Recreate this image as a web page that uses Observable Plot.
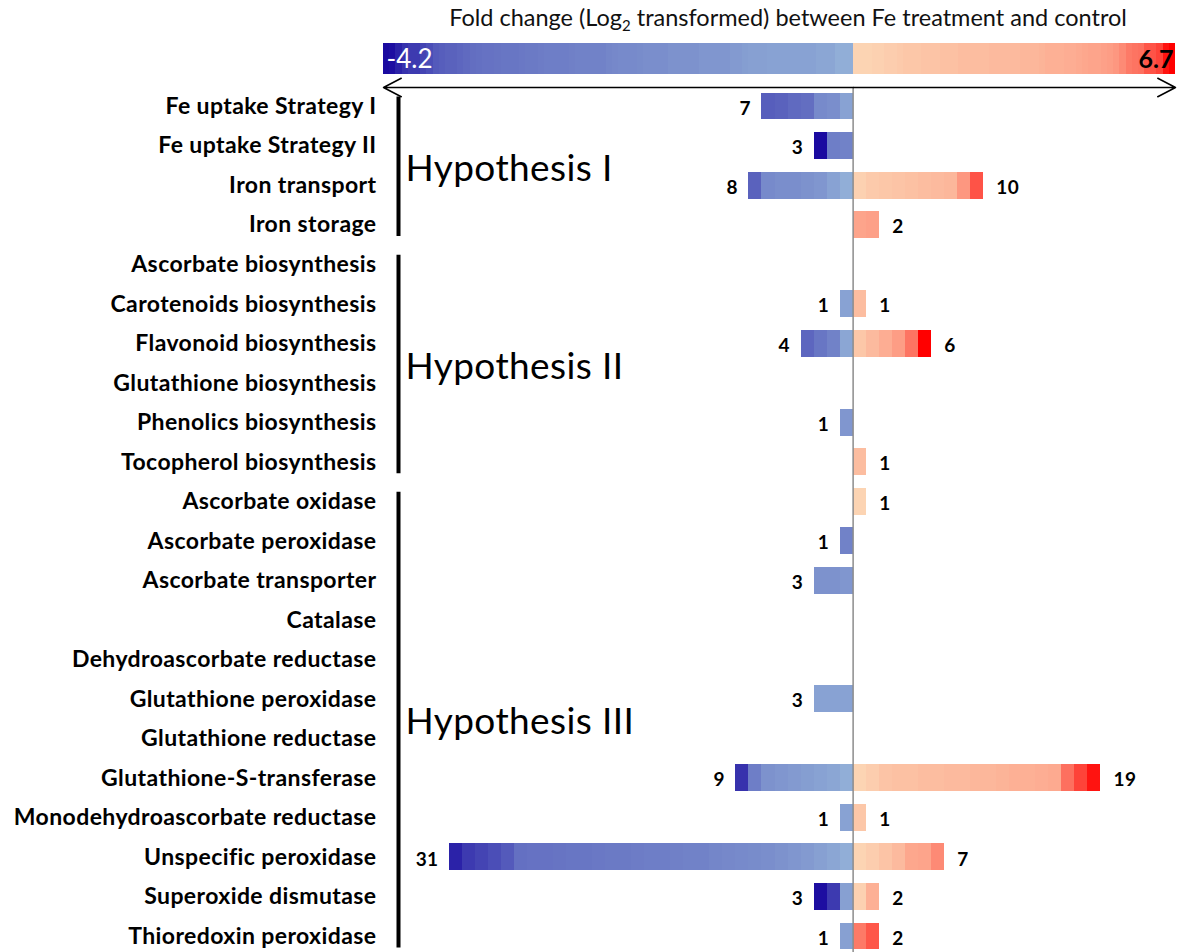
<!DOCTYPE html>
<html>
<head>
<meta charset="utf-8">
<script src="https://cdn.jsdelivr.net/npm/d3@7"></script>
<script src="https://cdn.jsdelivr.net/npm/@observablehq/plot@0.6"></script>
<style>
  body { margin: 0; background: #fff; }
  #wrap { position: relative; width: 1183px; height: 952px; overflow: hidden; font-family: Lato, sans-serif; }
  #title { position: absolute; left: 383px; width: 810px; top: 3px; text-align: center; font-size: 23.5px; color: #111; white-space: nowrap; }
  #title sub { font-size: 15px; vertical-align: -5px; line-height: 0; }
  .layer { position: absolute; left: 0; top: 0; }
  #main svg text { letter-spacing: 0.4px; }
</style>
</head>
<body>
<div id="wrap">
  <div id="title">Fold change (Log<sub>2</sub> transformed) between Fe treatment and control</div>
  <div id="main" class="layer"></div>
  <div id="bar" class="layer"></div>
</div>
<script>
// Functional categories (top to bottom)
const categories = [
  "Fe uptake Strategy I", "Fe uptake Strategy II", "Iron transport", "Iron storage",
  "Ascorbate biosynthesis", "Carotenoids biosynthesis", "Flavonoid biosynthesis",
  "Glutathione biosynthesis", "Phenolics biosynthesis", "Tocopherol biosynthesis",
  "Ascorbate oxidase", "Ascorbate peroxidase", "Ascorbate transporter", "Catalase",
  "Dehydroascorbate reductase", "Glutathione peroxidase", "Glutathione reductase",
  "Glutathione-S-transferase", "Monodehydroascorbate reductase", "Unspecific peroxidase",
  "Superoxide dismutase", "Thioredoxin peroxidase"
];

// Log2 fold change of each down-regulated gene, per category (same order as categories)
const downGenes = [
  [-2.1, -2.0, -1.8, -1.7, -1.0, -0.9, -0.4],
  [-4.2, -1.3, -1.2],
  [-2.0, -1.0, -0.9, -0.9, -0.8, -0.7, -0.4, -0.1],
  [],
  [],
  [-0.4],
  [-1.9, -1.5, -1.2, -0.3],
  [],
  [-0.7],
  [],
  [],
  [-1.2],
  [-0.8, -0.8, -0.7],
  [],
  [],
  [-0.4, -0.4, -0.4],
  [],
  [-3.2, -1.3, -0.8, -0.7, -0.6, -0.5, -0.4, -0.3, -0.1],
  [-0.4],
  [-3.6, -3.0, -2.75, -2.5, -2.2, -1.65, -1.6, -1.6, -1.55, -1.5, -1.5, -1.45, -1.4, -1.4, -1.35,
   -1.3, -1.3, -1.25, -1.2, -1.2, -1.1, -1.05, -1.0, -0.95, -0.9, -0.8, -0.7, -0.6, -0.45, -0.3, -0.1],
  [-4.1, -3.0, -0.45],
  [-0.45]
];

// Log2 fold change of each up-regulated gene, per category
const upGenes = [
  [],
  [],
  [0.2, 0.4, 0.5, 0.6, 0.7, 0.8, 0.9, 1.0, 2.0, 4.1],
  [1.6, 1.7],
  [],
  [0.8],
  [0.5, 0.9, 1.3, 1.8, 3.1, 6.7],
  [],
  [],
  [0.8],
  [0.1],
  [],
  [],
  [],
  [],
  [],
  [],
  [0.1, 0.3, 0.6, 0.7, 0.7, 0.8, 0.8, 0.9, 0.9, 1.0, 1.0, 1.1, 1.2, 1.2, 1.3, 1.4, 3.2, 4.6, 6.1],
  [0.5],
  [0.1, 0.3, 0.6, 0.9, 1.5, 1.6, 2.4],
  [0.2, 1.2],
  [2.9, 4.0]
];

// Hypothesis groups: label, first, middle and last category
const groupLabels = ["Hypothesis I", "Hypothesis II", "Hypothesis III"];
const groupFirst = ["Fe uptake Strategy I", "Ascorbate biosynthesis", "Ascorbate oxidase"];
const groupLast = ["Iron storage", "Tocopherol biosynthesis", "Thioredoxin peroxidase"];
const groupMiddle = ["Fe uptake Strategy II", "Flavonoid biosynthesis", "Glutathione peroxidase"];

// colour ramp stops
const colorStops = [-4.2, -1e-9, 1e-9, 6.7];
const colorRange = ["#1a0aa0", "#94b2d8", "#fcd7b6", "#ff0000"];

// ---- build tables ----
const genes = [];
categories.forEach((c, i) => {
  downGenes[i].slice().sort((a, b) => b - a).forEach(v => genes.push({cat: c, v}));
  upGenes[i].slice().sort((a, b) => a - b).forEach(v => genes.push({cat: c, v}));
});
const counts = categories.map((c, i) => ({cat: c, n: downGenes[i].length, p: upGenes[i].length}));
const maxDown = d3.max(counts, d => d.n);
const maxUp = d3.max(counts, d => d.p);
const groups = groupLabels.map((g, i) => ({label: g, first: groupFirst[i], last: groupLast[i], mid: groupMiddle[i]}));

const colorOpt = {type: "linear", domain: colorStops, range: colorRange};

const main = Plot.plot({
  width: 1183,
  height: 952,
  marginLeft: 385,
  marginRight: 0,
  marginTop: 92.6,
  marginBottom: 2.6,
  x: {domain: [-maxDown, maxUp], range: [449, 1100], axis: null},
  y: {domain: categories, paddingInner: 0.32, paddingOuter: 0, round: false, axis: null},
  color: colorOpt,
  style: {background: "transparent", fontFamily: "Lato, sans-serif", color: "#000"},
  marks: [
    Plot.barX(genes, {x: d => Math.sign(d.v), y: "cat", fill: "v", shapeRendering: "crispEdges"}),
    Plot.ruleX([0], {stroke: "#8c8c8c", strokeWidth: 1.5, insetTop: -5, insetBottom: -5}),
    Plot.text(counts.filter(d => d.n > 0), {
      x: d => -d.n, y: "cat", text: d => String(d.n), textAnchor: "end", dx: -11, dy: 2,
      fontWeight: "bold", fontSize: 19, fill: "#000"
    }),
    Plot.text(counts.filter(d => d.p > 0), {
      x: d => d.p, y: "cat", text: d => String(d.p), textAnchor: "start", dx: 13, dy: 2,
      fontWeight: "bold", fontSize: 19, fill: "#000"
    }),
    Plot.text(categories, {
      y: d => d, frameAnchor: "left", textAnchor: "end", dx: -9, dy: 0,
      text: d => d, fontWeight: "bold", fontSize: 23, fill: "#000"
    }),
    Plot.ruleX(groups, {
      x: -maxDown, dx: -51, y1: "first", y2: "last", stroke: "#000", strokeWidth: 4,
      insetTop: 4, insetBottom: 2
    }),
    Plot.text(groups, {
      x: -maxDown, dx: -44, y: "mid", dy: 23, text: "label", textAnchor: "start",
      fontSize: 37, fontWeight: "normal", fill: "#000"
    })
  ]
});
document.getElementById("main").appendChild(main);

// ---- colour bar: every gene, sorted by fold change ----
const allValues = genes.map(d => d.v);
const negSorted = allValues.filter(v => v < 0).sort((a, b) => b - a);
const posSorted = allValues.filter(v => v > 0).sort((a, b) => a - b);
const barData = negSorted.concat(posSorted).map(v => ({v}));
const vMin = d3.min(allValues), vMax = d3.max(allValues);

const bar = Plot.plot({
  width: 1183,
  height: 100,
  margin: 0,
  x: {domain: [-negSorted.length, posSorted.length], range: [383, 1175], axis: null},
  y: {domain: [0, 1], range: [74, 43], axis: null},
  color: colorOpt,
  style: {background: "transparent", fontFamily: "Lato, sans-serif"},
  marks: [
    Plot.rectX(barData, {x: d => Math.sign(d.v), y1: 0, y2: 1, fill: "v", shapeRendering: "crispEdges"}),
    Plot.text([vMin], {x: -negSorted.length, y: 0.5, text: d => d.toFixed(1), textAnchor: "start", dx: 3, dy: 1, fill: "white", fontSize: 26}),
    Plot.text([vMax], {x: posSorted.length, y: 0.5, text: d => d.toFixed(1), textAnchor: "end", dx: -2, dy: 1, fill: "#000", fontSize: 25, fontWeight: "bold"}),
    Plot.arrow([{a: 0, b: -negSorted.length}, {a: 0, b: posSorted.length}], {
      x1: "a", x2: "b", y1: -0.42, y2: -0.42, stroke: "#000", strokeWidth: 1.5, headLength: 20, headAngle: 55
    })
  ]
});
document.getElementById("bar").appendChild(bar);
</script>
</body>
</html>
